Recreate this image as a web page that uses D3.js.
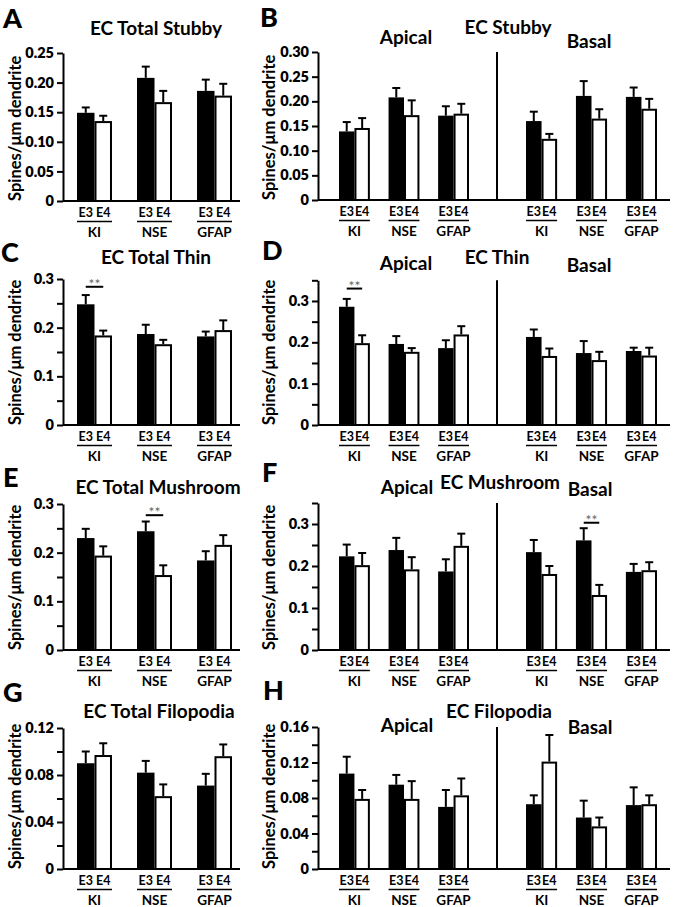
<!DOCTYPE html>
<html><head><meta charset="utf-8">
<script src="https://cdn.jsdelivr.net/npm/d3@7"></script>
<style>
body{margin:0;background:#fff}
svg{display:block}
</style>
</head><body><svg id="chart" width="675" height="907"></svg>
<script>
// ---------- DATA ----------
const groups = ["KI", "NSE", "GFAP"];
const genotypes = ["E3", "E4"];

// A: EC Total Stubby
const totalStubbyE3 = [0.149, 0.208, 0.186];
const totalStubbyE3Sem = [0.009, 0.019, 0.019];
const totalStubbyE4 = [0.135, 0.167, 0.178];
const totalStubbyE4Sem = [0.009, 0.019, 0.020];
// B: EC Stubby apical / basal
const apicalStubbyE3 = [0.139, 0.208, 0.171];
const apicalStubbyE3Sem = [0.019, 0.019, 0.019];
const apicalStubbyE4 = [0.146, 0.172, 0.175];
const apicalStubbyE4Sem = [0.020, 0.030, 0.020];
const basalStubbyE3 = [0.160, 0.211, 0.209];
const basalStubbyE3Sem = [0.019, 0.030, 0.019];
const basalStubbyE4 = [0.124, 0.165, 0.185];
const basalStubbyE4Sem = [0.010, 0.019, 0.020];
// C: EC Total Thin
const totalThinE3 = [0.248, 0.187, 0.182];
const totalThinE3Sem = [0.019, 0.019, 0.010];
const totalThinE4 = [0.184, 0.166, 0.195];
const totalThinE4Sem = [0.010, 0.009, 0.020];
// D: EC Thin apical / basal
const apicalThinE3 = [0.286, 0.196, 0.186];
const apicalThinE3Sem = [0.019, 0.019, 0.019];
const apicalThinE4 = [0.198, 0.177, 0.219];
const apicalThinE4Sem = [0.019, 0.009, 0.020];
const basalThinE3 = [0.213, 0.174, 0.179];
const basalThinE3Sem = [0.018, 0.029, 0.008];
const basalThinE4 = [0.167, 0.157, 0.168];
const basalThinE4Sem = [0.018, 0.020, 0.019];
// E: EC Total Mushroom
const totalMushroomE3 = [0.230, 0.244, 0.184];
const totalMushroomE3Sem = [0.019, 0.020, 0.019];
const totalMushroomE4 = [0.194, 0.154, 0.216];
const totalMushroomE4Sem = [0.019, 0.020, 0.020];
// F: EC Mushroom apical / basal
const apicalMushroomE3 = [0.223, 0.238, 0.187];
const apicalMushroomE3Sem = [0.028, 0.029, 0.029];
const apicalMushroomE4 = [0.202, 0.192, 0.248];
const apicalMushroomE4Sem = [0.029, 0.029, 0.029];
const basalMushroomE3 = [0.233, 0.261, 0.186];
const basalMushroomE3Sem = [0.029, 0.029, 0.019];
const basalMushroomE4 = [0.181, 0.131, 0.190];
const basalMushroomE4Sem = [0.019, 0.024, 0.019];
// G: EC Total Filopodia
const totalFiloE3 = [0.090, 0.082, 0.071];
const totalFiloE3Sem = [0.010, 0.010, 0.010];
const totalFiloE4 = [0.097, 0.062, 0.096];
const totalFiloE4Sem = [0.010, 0.010, 0.010];
// H: EC Filopodia apical / basal
const apicalFiloE3 = [0.1075, 0.095, 0.070];
const apicalFiloE3Sem = [0.019, 0.011, 0.019];
const apicalFiloE4 = [0.079, 0.079, 0.083];
const apicalFiloE4Sem = [0.010, 0.020, 0.019];
const basalFiloE3 = [0.073, 0.058, 0.072];
const basalFiloE3Sem = [0.010, 0.019, 0.020];
const basalFiloE4 = [0.121, 0.048, 0.073];
const basalFiloE4Sem = [0.030, 0.010, 0.010];

// Tick values
const ticksTotalStubby = [0, 0.05, 0.10, 0.15, 0.20, 0.25];
const ticksStubby = [0, 0.05, 0.10, 0.15, 0.20, 0.25, 0.30];
const ticksTenths = [0, 0.1, 0.2, 0.3];
const minorTenths = [0.05, 0.15, 0.25];
const minorTenthsTop = [0.05, 0.15, 0.25, 0.35];
const ticksTotalFilo = [0, 0.04, 0.08, 0.12];
const minorTotalFilo = [0.02, 0.06, 0.10];
const ticksFilo = [0, 0.04, 0.08, 0.12, 0.16];
const minorFilo = [0.02, 0.06, 0.10, 0.14];

const yLabel = "Spines/\u03bcm dendrite";
const sigMark = "**";

// ---------- LAYOUT ----------
const FONT = "Lato, 'Open Sans', 'DejaVu Sans', sans-serif";
const fmt2 = d => d === 0 ? "0" : d3.format(".2f")(d);
const fmt1 = d => d === 0 ? "0" : d3.format(".1f")(d);

const leftPanels = [
  {letter:"A", title:"EC Total Stubby", tx:156, ty:35, lx:3, ly:28, yTop:53, y0:201, yMax:0.25,
   labeled:ticksTotalStubby, minor:[], fmt:fmt2,
   d:[totalStubbyE3, totalStubbyE3Sem, totalStubbyE4, totalStubbyE4Sem], sig:null},
  {letter:"C", title:"EC Total Thin", tx:156, ty:264, lx:1, ly:262, yTop:279, y0:425, yMax:0.3,
   labeled:ticksTenths, minor:minorTenths, fmt:fmt1,
   d:[totalThinE3, totalThinE3Sem, totalThinE4, totalThinE4Sem], sig:{g:"KI", v:0.284}},
  {letter:"E", title:"EC Total Mushroom", tx:158, ty:494, lx:3, ly:487, yTop:504, y0:650, yMax:0.3,
   labeled:ticksTenths, minor:minorTenths, fmt:fmt1,
   d:[totalMushroomE3, totalMushroomE3Sem, totalMushroomE4, totalMushroomE4Sem], sig:{g:"NSE", v:0.277}},
  {letter:"G", title:"EC Total Filopodia", tx:159, ty:718, lx:3, ly:702, yTop:728, y0:869, yMax:0.12,
   labeled:ticksTotalFilo, minor:minorTotalFilo, fmt:fmt2,
   d:[totalFiloE3, totalFiloE3Sem, totalFiloE4, totalFiloE4Sem], sig:null}
];

const rightPanels = [
  {letter:"B", title:"EC Stubby", tx:508, ty:34, ax:406, ay:44, bx:589, by:48, lx:260, ly:27,
   yTop:52, y0:200, yMax:0.30, labeled:ticksStubby, minor:[], fmt:fmt2,
   apical:[apicalStubbyE3, apicalStubbyE3Sem, apicalStubbyE4, apicalStubbyE4Sem],
   basal:[basalStubbyE3, basalStubbyE3Sem, basalStubbyE4, basalStubbyE4Sem], sigA:null, sigB:null},
  {letter:"D", title:"EC Thin", tx:497, ty:264, ax:406, ay:270, bx:589, by:272, lx:262, ly:260,
   yTop:280.3, y0:425, yMax:0.35, labeled:ticksTenths, minor:minorTenthsTop, fmt:fmt1,
   apical:[apicalThinE3, apicalThinE3Sem, apicalThinE4, apicalThinE4Sem],
   basal:[basalThinE3, basalThinE3Sem, basalThinE4, basalThinE4Sem], sigA:{g:"KI", v:0.330}, sigB:null},
  {letter:"F", title:"EC Mushroom", tx:500, ty:489, ax:407, ay:494, bx:590, by:496, lx:262, ly:482,
   yTop:503, y0:650, yMax:0.35, labeled:ticksTenths, minor:minorTenthsTop, fmt:fmt1,
   apical:[apicalMushroomE3, apicalMushroomE3Sem, apicalMushroomE4, apicalMushroomE4Sem],
   basal:[basalMushroomE3, basalMushroomE3Sem, basalMushroomE4, basalMushroomE4Sem], sigA:null, sigB:{g:"NSE", v:0.303}},
  {letter:"H", title:"EC Filopodia", tx:499, ty:718, ax:407, ay:732, bx:590, by:734, lx:263, ly:700,
   yTop:727, y0:869, yMax:0.16, labeled:ticksFilo, minor:minorFilo, fmt:fmt2,
   apical:[apicalFiloE3, apicalFiloE3Sem, apicalFiloE4, apicalFiloE4Sem],
   basal:[basalFiloE3, basalFiloE3Sem, basalFiloE4, basalFiloE4Sem], sigA:null, sigB:null}
];

const svg = d3.select("#chart");

function txt(g, x, y, s, size, anchor, weight, fill) {
  return g.append("text").attr("x", x).attr("y", y).text(s)
    .attr("font-family", FONT).attr("font-size", size)
    .attr("font-weight", weight || 700).attr("text-anchor", anchor || "middle")
    .attr("fill", fill || "#000");
}

function drawAxis(g, y, x0, labeled, minor, fmt) {
  const all = labeled.concat(minor).sort((a, b) => a - b);
  const axis = d3.axisLeft(y).tickValues(all).tickSize(6).tickSizeOuter(0).tickPadding(3)
    .tickFormat(d => labeled.some(v => Math.abs(v - d) < 1e-9) ? fmt(d) : "");
  const ax = g.append("g").attr("transform", `translate(${x0},0)`).call(axis);
  ax.select(".domain").attr("stroke-width", 2).attr("stroke", "#000");
  ax.selectAll(".tick line").attr("stroke-width", 2).attr("stroke", "#000");
  ax.selectAll(".tick text").attr("font-size", 14.5).attr("font-family", FONT)
    .attr("font-weight", 800).attr("fill", "#000");
}

function drawBars(g, xg, y, y0, d, sig) {
  const [e3, e3s, e4, e4s] = d;
  const xs = d3.scaleBand().domain(genotypes).range([0, xg.bandwidth()]);
  groups.forEach((grp, i) => {
    const vals = {E3: [e3[i], e3s[i]], E4: [e4[i], e4s[i]]};
    genotypes.forEach(gen => {
      const [m, s] = vals[gen];
      const bx = xg(grp) + xs(gen);
      const cx = bx + xs.bandwidth() / 2;
      g.append("line").attr("x1", cx).attr("x2", cx).attr("y1", y(m)).attr("y2", y(m + s))
        .attr("stroke", "#000").attr("stroke-width", 2);
      g.append("line").attr("x1", cx - 4).attr("x2", cx + 4).attr("y1", y(m + s)).attr("y2", y(m + s))
        .attr("stroke", "#000").attr("stroke-width", 2);
      g.append("rect").attr("x", bx + 1).attr("width", xs.bandwidth() - 2)
        .attr("y", y(m) + 1).attr("height", y0 - y(m) - 1)
        .attr("fill", gen === "E3" ? "#000" : "#fff").attr("stroke", "#000").attr("stroke-width", 2);
      txt(g, cx, y0 + 16, gen, 12.5);
    });
    g.append("line").attr("x1", xg(grp)).attr("x2", xg(grp) + xg.bandwidth())
      .attr("y1", y0 + 20.5).attr("y2", y0 + 20.5).attr("stroke", "#000").attr("stroke-width", 1.5);
    txt(g, xg(grp) + xg.bandwidth() / 2, y0 + 36, grp, 13.5);
    if (sig && sig.g === grp) {
      const c1 = xg(grp) + xs("E3") + xs.bandwidth() / 2;
      const c2 = xg(grp) + xs("E4") + xs.bandwidth() / 2;
      g.append("line").attr("x1", c1).attr("x2", c2).attr("y1", y(sig.v)).attr("y2", y(sig.v))
        .attr("stroke", "#000").attr("stroke-width", 2);
      txt(g, (c1 + c2) / 2, y(sig.v) + 2, sigMark, 14, "middle", 400, "#666");
    }
  });
}

// Left panels
leftPanels.forEach(p => {
  const g = svg.append("g");
  const axX = 63;
  const y = d3.scaleLinear().domain([0, p.yMax]).range([p.y0, p.yTop]);
  const xg = d3.scaleBand().domain(groups).range([77, 232]).paddingInner(0.417).paddingOuter(0);
  drawBars(g, xg, y, p.y0, p.d, p.sig);
  g.append("line").attr("x1", axX).attr("x2", 240).attr("y1", p.y0).attr("y2", p.y0)
    .attr("stroke", "#000").attr("stroke-width", 2);
  drawAxis(g, y, axX, p.labeled, p.minor, p.fmt);
  txt(g, p.tx, p.ty, p.title, 19);
  txt(g, p.lx, p.ly, p.letter, 27, "start", 900);
  txt(g, 0, 0, yLabel, 16.5, "start").attr("transform", `translate(21,${p.y0}) rotate(-90)`);
});

// Right panels
rightPanels.forEach(p => {
  const g = svg.append("g");
  const axX = 318;
  const y = d3.scaleLinear().domain([0, p.yMax]).range([p.y0, p.yTop]);
  const xa = d3.scaleBand().domain(groups).range([339, 469]).paddingInner(0.377).paddingOuter(0);
  const xb = d3.scaleBand().domain(groups).range([526, 657]).paddingInner(0.377).paddingOuter(0);
  drawBars(g, xa, y, p.y0, p.apical, p.sigA);
  drawBars(g, xb, y, p.y0, p.basal, p.sigB);
  g.append("line").attr("x1", axX).attr("x2", 670).attr("y1", p.y0).attr("y2", p.y0)
    .attr("stroke", "#000").attr("stroke-width", 2);
  g.append("line").attr("x1", 497).attr("x2", 497).attr("y1", p.yTop).attr("y2", p.y0)
    .attr("stroke", "#000").attr("stroke-width", 2);
  drawAxis(g, y, axX, p.labeled, p.minor, p.fmt);
  txt(g, p.tx, p.ty, p.title, 19);
  txt(g, p.ax, p.ay, "Apical", 19);
  txt(g, p.bx, p.by, "Basal", 19);
  txt(g, p.lx, p.ly, p.letter, 27, "start", 900);
  txt(g, 0, 0, yLabel, 16.5, "start").attr("transform", `translate(275,${p.y0}) rotate(-90)`);
});
</script>
</body></html>
